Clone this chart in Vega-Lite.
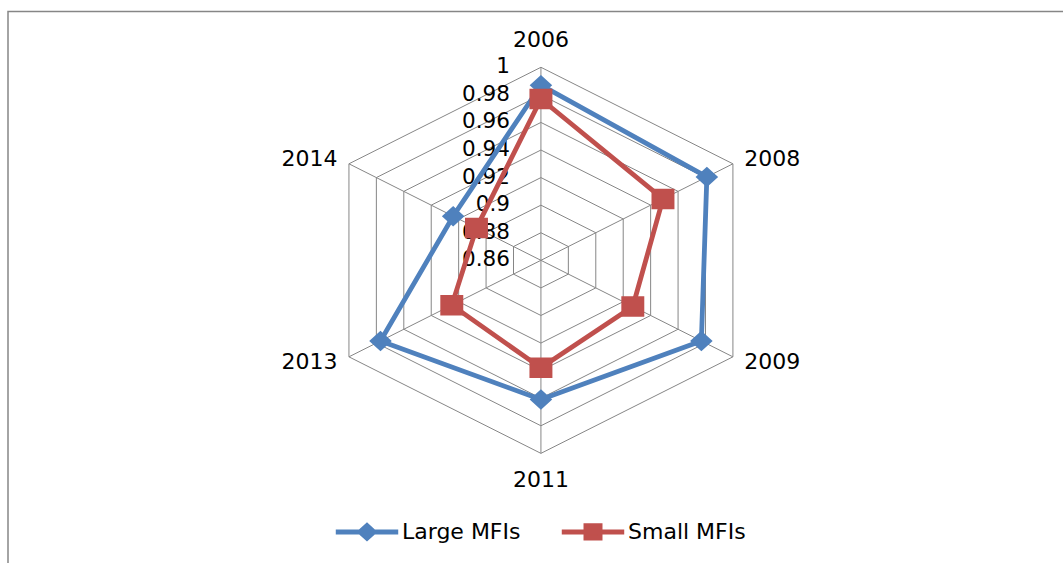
{
  "$schema": "https://vega.github.io/schema/vega-lite/v6.json",
  "width": 1055,
  "height": 551.5,
  "autosize": {"type": "none"},
  "padding": {"left": 8, "top": 11.5, "right": 0, "bottom": 0},
  "background": "white",
  "config": {
    "view": {"stroke": "#868686", "strokeWidth": 1.5, "strokeDash": [1055, 1606.5, 551.5]},
    "text": {"font": "DejaVu Sans"}
  },
  "datasets": {
    "scores": [
      {"year": "2006", "idx": 0, "series": "Large MFIs", "value": 0.987},
      {"year": "2008", "idx": 1, "series": "Large MFIs", "value": 0.981},
      {"year": "2009", "idx": 2, "series": "Large MFIs", "value": 0.977},
      {"year": "2011", "idx": 3, "series": "Large MFIs", "value": 0.961},
      {"year": "2013", "idx": 4, "series": "Large MFIs", "value": 0.977},
      {"year": "2014", "idx": 5, "series": "Large MFIs", "value": 0.924},
      {"year": "2006", "idx": 0, "series": "Small MFIs", "value": 0.977},
      {"year": "2008", "idx": 1, "series": "Small MFIs", "value": 0.949},
      {"year": "2009", "idx": 2, "series": "Small MFIs", "value": 0.927},
      {"year": "2011", "idx": 3, "series": "Small MFIs", "value": 0.938},
      {"year": "2013", "idx": 4, "series": "Small MFIs", "value": 0.925},
      {"year": "2014", "idx": 5, "series": "Small MFIs", "value": 0.907}
    ],
    "axes": [
      {"year": "2006", "idx": 0},
      {"year": "2008", "idx": 1},
      {"year": "2009", "idx": 2},
      {"year": "2011", "idx": 3},
      {"year": "2013", "idx": 4},
      {"year": "2014", "idx": 5}
    ],
    "rings": [
      {"level": 0.88, "idx": [0, 1, 2, 3, 4, 5]},
      {"level": 0.90, "idx": [0, 1, 2, 3, 4, 5]},
      {"level": 0.92, "idx": [0, 1, 2, 3, 4, 5]},
      {"level": 0.94, "idx": [0, 1, 2, 3, 4, 5]},
      {"level": 0.96, "idx": [0, 1, 2, 3, 4, 5]},
      {"level": 0.98, "idx": [0, 1, 2, 3, 4, 5]},
      {"level": 1.00, "idx": [0, 1, 2, 3, 4, 5]}
    ],
    "ticks": [
      {"level": 0.86}, {"level": 0.88}, {"level": 0.90}, {"level": 0.92},
      {"level": 0.94}, {"level": 0.96}, {"level": 0.98}, {"level": 1.00}
    ]
  },
  "layer": [
    {
      "data": {"name": "rings"},
      "transform": [
        {"flatten": ["idx"]},
        {"calculate": "(datum.level - 0.86) / 0.14", "as": "r"},
        {"calculate": "datum.r * sin(datum.idx * PI / 3)", "as": "px"},
        {"calculate": "datum.r * cos(datum.idx * PI / 3)", "as": "py"}
      ],
      "mark": {"type": "line", "interpolate": "linear-closed", "color": "#868686", "strokeWidth": 1},
      "encoding": {
        "x": {"field": "px", "type": "quantitative", "axis": null, "scale": {"domain": [-2.404, 2.355], "nice": false, "zero": false}},
        "y": {"field": "py", "type": "quantitative", "axis": null, "scale": {"domain": [-1.568, 1.289], "nice": false, "zero": false}},
        "detail": {"field": "level", "type": "nominal"},
        "order": {"field": "idx", "type": "quantitative"}
      }
    },
    {
      "data": {"name": "axes"},
      "transform": [
        {"calculate": "sin(datum.idx * PI / 3)", "as": "sx"},
        {"calculate": "cos(datum.idx * PI / 3)", "as": "sy"},
        {"calculate": "0", "as": "ox"}
      ],
      "mark": {"type": "rule", "color": "#868686", "strokeWidth": 1},
      "encoding": {
        "x": {"field": "ox", "type": "quantitative", "axis": null, "scale": {"domain": [-2.404, 2.355], "nice": false, "zero": false}},
        "y": {"field": "ox", "type": "quantitative", "axis": null, "scale": {"domain": [-1.568, 1.289], "nice": false, "zero": false}},
        "x2": {"field": "sx"},
        "y2": {"field": "sy"}
      }
    },
    {
      "data": {"name": "ticks"},
      "transform": [
        {"calculate": "(datum.level - 0.86) / 0.14", "as": "r"},
        {"calculate": "0", "as": "ox"}
      ],
      "mark": {"type": "text", "align": "right", "baseline": "middle", "dx": -31, "fontSize": 21.5, "color": "black"},
      "encoding": {
        "x": {"field": "ox", "type": "quantitative", "axis": null, "scale": {"domain": [-2.404, 2.355], "nice": false, "zero": false}},
        "y": {"field": "r", "type": "quantitative", "axis": null, "scale": {"domain": [-1.568, 1.289], "nice": false, "zero": false}},
        "text": {"field": "level", "type": "quantitative", "format": ".2~f"}
      }
    },
    {
      "data": {"name": "axes"},
      "transform": [
        {"calculate": "1.205 * sin(datum.idx * PI / 3)", "as": "lx"},
        {"calculate": "cos(datum.idx * PI / 3) * (abs(cos(datum.idx * PI / 3)) > 0.9 ? 1.14 : 1.05)", "as": "ly"}
      ],
      "mark": {"type": "text", "align": "center", "baseline": "middle", "fontSize": 22, "color": "black"},
      "encoding": {
        "x": {"field": "lx", "type": "quantitative", "axis": null, "scale": {"domain": [-2.404, 2.355], "nice": false, "zero": false}},
        "y": {"field": "ly", "type": "quantitative", "axis": null, "scale": {"domain": [-1.568, 1.289], "nice": false, "zero": false}},
        "text": {"field": "year", "type": "nominal"}
      }
    },
    {
      "data": {"name": "scores"},
      "transform": [
        {"calculate": "(datum.value - 0.86) / 0.14", "as": "r"},
        {"calculate": "datum.r * sin(datum.idx * PI / 3)", "as": "px"},
        {"calculate": "datum.r * cos(datum.idx * PI / 3)", "as": "py"}
      ],
      "mark": {"type": "line", "interpolate": "linear-closed", "strokeWidth": 4.8, "strokeJoin": "round"},
      "encoding": {
        "x": {"field": "px", "type": "quantitative", "axis": null, "scale": {"domain": [-2.404, 2.355], "nice": false, "zero": false}},
        "y": {"field": "py", "type": "quantitative", "axis": null, "scale": {"domain": [-1.568, 1.289], "nice": false, "zero": false}},
        "order": {"field": "idx", "type": "quantitative"},
        "stroke": {
          "field": "series", "type": "nominal",
          "scale": {"domain": ["Large MFIs", "Small MFIs"], "range": ["#4F81BD", "#C0504D"]}
        }
      }
    },
    {
      "data": {"name": "scores"},
      "transform": [
        {"calculate": "(datum.value - 0.86) / 0.14", "as": "r"},
        {"calculate": "datum.r * sin(datum.idx * PI / 3)", "as": "px"},
        {"calculate": "datum.r * cos(datum.idx * PI / 3)", "as": "py"}
      ],
      "mark": {"type": "point", "opacity": 1, "size": 420, "strokeWidth": 0},
      "encoding": {
        "x": {"field": "px", "type": "quantitative", "axis": null, "scale": {"domain": [-2.404, 2.355], "nice": false, "zero": false}},
        "y": {"field": "py", "type": "quantitative", "axis": null, "scale": {"domain": [-1.568, 1.289], "nice": false, "zero": false}},
        "fill": {
          "field": "series", "type": "nominal",
          "scale": {"domain": ["Large MFIs", "Small MFIs"], "range": ["#4F81BD", "#C0504D"]},
          "legend": {
            "title": null, "orient": "none", "direction": "horizontal",
            "legendX": 348, "legendY": 509, "padding": 0,
            "symbolSize": 156, "symbolStrokeWidth": 5, "symbolOpacity": 1,
            "labelFont": "DejaVu Sans", "labelFontSize": 22, "labelColor": "black",
            "labelOffset": 24, "columnPadding": 30
          }
        },
        "stroke": {
          "field": "series", "type": "nominal",
          "scale": {"domain": ["Large MFIs", "Small MFIs"], "range": ["#4F81BD", "#C0504D"]},
          "legend": {
            "title": null, "orient": "none", "direction": "horizontal",
            "legendX": 348, "legendY": 509, "padding": 0,
            "symbolSize": 156, "symbolStrokeWidth": 5, "symbolOpacity": 1,
            "labelFont": "DejaVu Sans", "labelFontSize": 22, "labelColor": "black",
            "labelOffset": 24, "columnPadding": 30
          }
        },
        "shape": {
          "field": "series", "type": "nominal",
          "scale": {"domain": ["Large MFIs", "Small MFIs"], "range": ["M-5,0H5M-1.1,0L0,-1L1.1,0L0,1Z", "M-5,0H5M-1.12,-1H1.12V1H-1.12Z"]},
          "legend": {
            "title": null, "orient": "none", "direction": "horizontal",
            "legendX": 348, "legendY": 509, "padding": 0,
            "symbolSize": 156, "symbolStrokeWidth": 5, "symbolOpacity": 1,
            "labelFont": "DejaVu Sans", "labelFontSize": 22, "labelColor": "black",
            "labelOffset": 24, "columnPadding": 30
          }
        }
      }
    }
  ]
}
